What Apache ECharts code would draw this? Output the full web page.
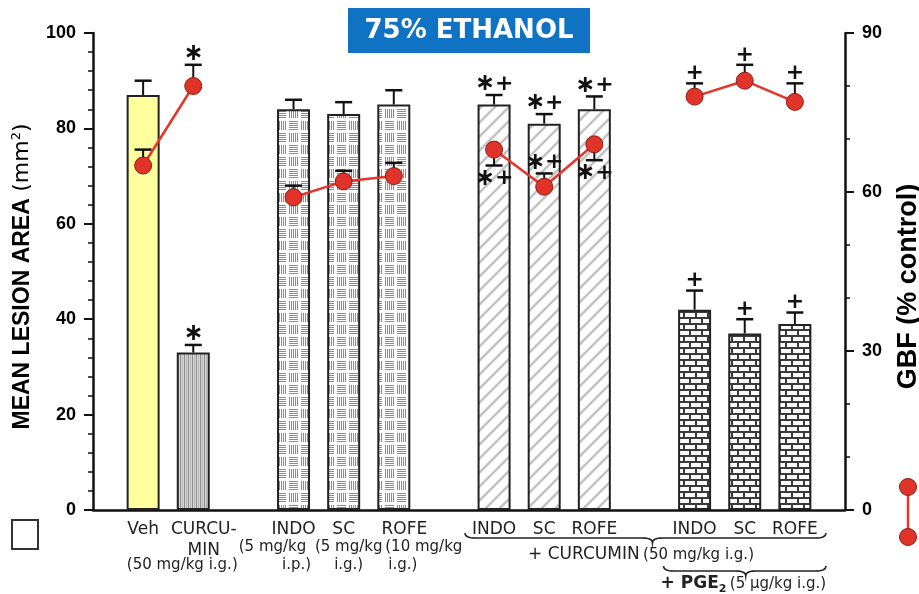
<!DOCTYPE html>
<html><head><meta charset="utf-8">
<script src="https://cdn.jsdelivr.net/npm/echarts@6/dist/echarts.min.js"></script>
<style>html,body{margin:0;padding:0;background:#fff}#c{width:919px;height:594px}</style>
</head><body><div id="c"></div>
<script>
// ---------- data ----------
const categories = ['', 'Veh', 'CURCU-\nMIN', '', 'INDO', 'SC', 'ROFE', '', 'INDO', 'SC', 'ROFE', '', 'INDO', 'SC', 'ROFE', ''];
const lesion    = [null, 87, 33, null, 84, 83, 85, null, 85, 81, 84, null, 42, 37, 39, null];
const lesionErr = [null, 3, 1.6, null, 2, 2.5, 3, null, 2, 2, 2.7, null, 4, 3, 2.4, null];
const lesionSig = ['', '', '*', '', '', '', '', '', '*+', '*+', '*+', '', '+', '+', '+', ''];
const gbf       = [null, 65, 80, null, 59, 62, 63, null, 68, 61, 69, null, 78, 81, 77, null];
const gbfErr    = [null, 3, 4, null, 2.2, 2, 2.5, null, -3, 2.5, -3, null, 2.5, 3, 3.5, null];
const gbfSig    = ['', '', '*', '', '', '', '', '', '*+', '*+', '*+', '', '+', '+', '+', ''];
const leftTicks  = [0, 20, 40, 60, 80, 100];
const rightTicks = [0, 30, 60, 90];
const titleText = '75% ETHANOL';
const leftName = 'MEAN LESION AREA ';
const rightName = 'GBF (% control)';
const doseTexts = [
  {cat: 2, line: 2, text: '(50 mg/kg i.g.)', dx: -11},
  {cat: 4, line: 1, text: '(5 mg/kg', dx: -21},
  {cat: 4, line: 2, text: 'i.p.)', dx: 3},
  {cat: 5, line: 1, text: '(5 mg/kg', dx: 5},
  {cat: 5, line: 2, text: 'i.g.)', dx: 5},
  {cat: 6, line: 1, text: '(10 mg/kg', dx: 30},
  {cat: 6, line: 2, text: 'i.g.)', dx: 9}
];

// ---------- patterns ----------
function mk(w, h, draw) { const c = document.createElement('canvas'); c.width = w; c.height = h; const g = c.getContext('2d'); draw(g); return c; }
const pat = {
  yellow: '#ffff9e',
  vstripe: {image: mk(4, 4, g => { g.fillStyle = '#d4d4d4'; g.fillRect(0,0,4,4); g.fillStyle = '#8e8e8e'; g.fillRect(0,0,1,4); g.fillStyle = '#b8b8b8'; g.fillRect(2,0,1,4); }), repeat: 'repeat'},
  weave: {image: mk(24, 24, g => {
    g.fillStyle = '#fff'; g.fillRect(0,0,24,24); g.fillStyle = '#8c8c8c';
    const H = (x,y) => { for (let k = 0; k < 5; k++) g.fillRect(x, y + k*2, 9, 1); };
    const V = (x,y) => { for (let k = 0; k < 5; k++) g.fillRect(x + k*2, y, 1, 9); };
    H(1,1); V(13,1); V(1,13); H(13,13);
  }), repeat: 'repeat'},
  hatch: {image: mk(14, 14, g => {
    g.fillStyle = '#fff'; g.fillRect(0,0,14,14); g.strokeStyle = '#c4c4c4'; g.lineWidth = 2.6;
    [[-7,7,7,-7],[0,14,14,0],[7,21,21,7]].forEach(s => { g.beginPath(); g.moveTo(s[0],s[1]); g.lineTo(s[2],s[3]); g.stroke(); });
  }), repeat: 'repeat'},
  brick: {image: mk(12, 12, g => {
    g.fillStyle = '#3a3a3a'; g.fillRect(0,0,12,12); g.fillStyle = '#fff';
    g.fillRect(1,1,10,4); g.fillRect(7,7,10,4); g.fillRect(-5,7,10,4);
  }), repeat: 'repeat'}
};
const barStyle = ['', 'yellow', 'vstripe', '', 'weave', 'weave', 'weave', '', 'hatch', 'hatch', 'hatch', '', 'brick', 'brick', 'brick', ''];

// ---------- chart ----------
const chart = echarts.init(document.getElementById('c'), null, {renderer: 'canvas'});
const AX = '#111';
const sigRich = {
  a: {fontFamily: 'DejaVu Sans', fontWeight: 'bold', fontSize: 24, fill: '#111', color: '#111'},
  p: {fontFamily: 'DejaVu Sans', fontWeight: 'bold', fontSize: 22, fill: '#111', color: '#111'}
};
function sigText(s) {
  return s.split('').map(ch => ch === '*' ? '{a|\u2217}' : '{p|+}').join('');
}

function errSeries(vals, errs, sigs, yIdx, z) {
  const data = [];
  vals.forEach((v, i) => { if (v != null) data.push([i, v, v + errs[i], i]); });
  return {
    type: 'custom', yAxisIndex: yIdx, z: z, data: data, encode: {x: 0, y: [1, 2]}, silent: true,
    renderItem(params, api) {
      const i = api.value(0);
      const p0 = api.coord([i, api.value(1)]);
      const p1 = api.coord([i, api.value(2)]);
      const up = p1[1] < p0[1];
      const sig = sigs[api.value(3)];
      const ch = [
        {type: 'line', shape: {x1: p0[0], y1: p0[1], x2: p1[0], y2: p1[1]}, style: {stroke: AX, lineWidth: 2}},
        {type: 'line', shape: {x1: p1[0] - 8.5, y1: p1[1], x2: p1[0] + 8.5, y2: p1[1]}, style: {stroke: AX, lineWidth: 2.5}}
      ];
      if (sig) ch.push({type: 'text', style: {text: sigText(sig), rich: sigRich, x: p1[0], y: p1[1] + 1,
        align: 'center', verticalAlign: up ? 'bottom' : 'top'}});
      return {type: 'group', children: ch};
    }
  };
}

const option = {
  animation: false,
  backgroundColor: '#fff',
  grid: {left: 93, right: 74, top: 33, bottom: 84, containLabel: false, outerBoundsMode: 'none'},
  xAxis: {
    type: 'category', data: categories, boundaryGap: false,
    axisLine: {lineStyle: {color: AX, width: 2.5}}, axisTick: {show: false},
    axisLabel: {
      interval: 0, margin: 9, color: '#222', fontFamily: 'DejaVu Sans', fontSize: 17, lineHeight: 21,
      formatter: (v, idx) => {
        if (!v) return '';
        if (idx === 2) return v.split('\n').map(s => '{s|' + s + '}').join('\n');
        if (idx === 6) return '{s|' + v + '}';
        return v;
      },
      rich: {s: {fontFamily: 'DejaVu Sans', fontSize: 17, color: '#222', padding: [0, 0, 0, 21], lineHeight: 21}}
    },
    splitLine: {show: false}
  },
  yAxis: [
    {
      type: 'value', min: leftTicks[0], max: leftTicks[leftTicks.length - 1], interval: leftTicks[1] - leftTicks[0],
      position: 'left',
      axisLine: {show: true, lineStyle: {color: AX, width: 2.5}},
      axisTick: {show: true, length: 9, lineStyle: {color: AX, width: 2}},
      minorTick: {show: true, splitNumber: 5, length: 5, lineStyle: {color: AX, width: 1.5}},
      splitLine: {show: false},
      axisLabel: {margin: 17, color: '#000', fontFamily: 'Liberation Sans', fontWeight: 'bold', fontSize: 18},
      name: '{b|' + leftName + '}{n|(mm}{sup|2}{n|)}', nameLocation: 'middle', nameGap: 58, nameRotate: 90,
      nameTextStyle: {padding: [0, 10, 0, 0], rich: {
        b: {fontFamily: 'Liberation Sans', fontWeight: 'bold', fontSize: 23, color: '#000'},
        n: {fontFamily: 'DejaVu Sans', fontSize: 22, color: '#000'},
        sup: {fontFamily: 'DejaVu Sans', fontSize: 13, color: '#000', verticalAlign: 'top', padding: [0, 0, 12, 0]}
      }}
    },
    {
      type: 'value', min: rightTicks[0], max: rightTicks[rightTicks.length - 1], interval: rightTicks[1] - rightTicks[0],
      position: 'right',
      axisLine: {show: true, lineStyle: {color: AX, width: 2.5}},
      axisTick: {show: true, length: 9, lineStyle: {color: AX, width: 2}},
      minorTick: {show: true, splitNumber: 3, length: 5, lineStyle: {color: AX, width: 1.5}},
      splitLine: {show: false},
      axisLabel: {margin: 17, color: '#000', fontFamily: 'Liberation Sans', fontWeight: 'bold', fontSize: 18},
      name: rightName, nameLocation: 'middle', nameGap: 50, nameRotate: 90,
      nameTextStyle: {fontFamily: 'Liberation Sans', fontWeight: 'bold', fontSize: 27, color: '#000', padding: [0, 30, 0, 0]}
    }
  ],
  series: [
    {
      type: 'bar', yAxisIndex: 0, barWidth: 33, z: 2,
      data: lesion.map((v, i) => v == null ? '-' : {value: v, itemStyle: {color: pat[barStyle[i]]}}),
      itemStyle: {borderColor: '#222', borderWidth: 2}
    },
    errSeries(lesion, lesionErr, lesionSig, 0, 3),
    errSeries(gbf, gbfErr, gbfSig, 1, 4),
    {
      type: 'line', yAxisIndex: 1, z: 5, connectNulls: false,
      data: gbf.map(v => v == null ? '-' : v),
      symbol: 'circle', symbolSize: 17,
      lineStyle: {color: '#e5352a', width: 2.5},
      itemStyle: {color: '#e0342a', borderColor: '#8e1b14', borderWidth: 1}
    }
  ]
};
chart.setOption(option);

// ---------- annotations (positioned from the axis) ----------
const px = i => chart.convertToPixel({xAxisIndex: 0}, i);
const baseY = chart.convertToPixel({yAxisIndex: 0}, 0);
const rowY = [baseY + 16, baseY + 37, baseY + 55];
const gfx = [];
gfx.push({type: 'rect', shape: {x: 348, y: 8, width: 242, height: 45}, style: {fill: '#0f72c3'}, z: 10});
gfx.push({type: 'text', style: {text: titleText, x: 469, y: 31, align: 'center', verticalAlign: 'middle',
  font: 'bold 26px "DejaVu Sans"', fill: '#fff'}, z: 11});
doseTexts.forEach(d => gfx.push({type: 'text', style: {text: d.text, x: px(d.cat) + d.dx, y: rowY[d.line],
  align: 'center', verticalAlign: 'middle', font: '15px "DejaVu Sans"', fill: '#222'}}));
function qpts(a, c, b, n) {
  const out = [];
  for (let k = 0; k <= n; k++) { const t = k / n, u = 1 - t;
    out.push([u*u*a[0] + 2*u*t*c[0] + t*t*b[0], u*u*a[1] + 2*u*t*c[1] + t*t*b[1]]); }
  return out;
}
function brace(x1, x2, xm, y0) {
  const y1 = y0 + 5, y2 = y0 + 10, r = 10;
  const pts = [].concat(
    qpts([x1, y0], [x1, y1], [x1 + r, y1], 8),
    qpts([xm - r, y1], [xm, y1], [xm, y2], 8),
    qpts([xm, y2], [xm, y1], [xm + r, y1], 8),
    qpts([x2 - r, y1], [x2, y1], [x2, y0], 8));
  return {type: 'polyline', shape: {points: pts}, style: {stroke: '#222', lineWidth: 1.6, fill: null}};
}
gfx.push(brace(px(8) - 29, px(14) + 31, px(11) + 8, baseY + 23));
gfx.push(brace(px(12) - 31, px(14) + 31, px(13) + 1, baseY + 56));
gfx.push({type: 'text', style: {text: '{b|+ CURCUMIN} {n|(50 mg/kg i.g.)}', x: px(8) + 34, y: baseY + 45,
  align: 'left', verticalAlign: 'middle', rich: {
    b: {font: '17px "DejaVu Sans"', fill: '#222'}, n: {font: '15px "DejaVu Sans"', fill: '#222'}}}});
gfx.push({type: 'text', style: {text: '{b|+ PGE}{s|2} {n|(5 µg/kg i.g.)}', x: px(12) - 34, y: baseY + 74,
  align: 'left', verticalAlign: 'middle', rich: {
    b: {font: 'bold 17px "DejaVu Sans"', fill: '#222'}, s: {font: 'bold 11px "DejaVu Sans"', fill: '#222', padding: [10, 0, 0, 0]},
    n: {font: '15px "DejaVu Sans"', fill: '#222'}}}});
// legend keys
gfx.push({type: 'rect', shape: {x: 12, y: 520, width: 26, height: 29}, style: {fill: '#fff', stroke: '#333', lineWidth: 2}});
gfx.push({type: 'line', shape: {x1: 908, y1: 487, x2: 908, y2: 537}, style: {stroke: '#e5352a', lineWidth: 2.5}});
gfx.push({type: 'circle', shape: {cx: 908, cy: 487, r: 8.5}, style: {fill: '#e0342a', stroke: '#8e1b14', lineWidth: 1}});
gfx.push({type: 'circle', shape: {cx: 908, cy: 537, r: 8.5}, style: {fill: '#e0342a', stroke: '#8e1b14', lineWidth: 1}});
chart.setOption({graphic: gfx});
</script></body></html>
